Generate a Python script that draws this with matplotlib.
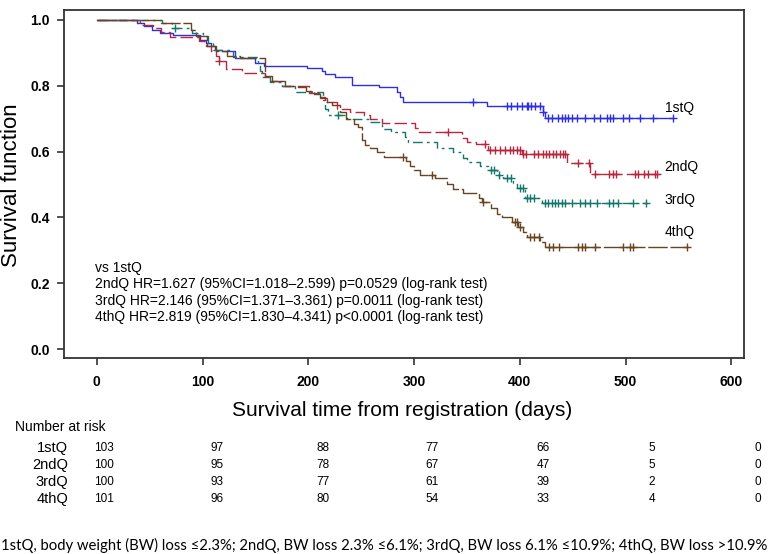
import numpy as np
import matplotlib
matplotlib.use("Agg")
import matplotlib.pyplot as plt

plt.rcParams['font.family'] = ['Liberation Sans', 'DejaVu Sans']

# Kaplan-Meier steps (days, survival)
q1_t = [0, 38, 45, 52, 60, 72, 98, 103, 108, 112, 118, 131, 150, 158, 199, 213, 216, 225, 241, 267, 284, 287, 290, 369, 422, 424]
q1_s = [1.0, 0.99, 0.98, 0.97, 0.96, 0.955, 0.94, 0.93, 0.92, 0.91, 0.905, 0.885, 0.87, 0.86, 0.855, 0.845, 0.835, 0.827, 0.802, 0.796, 0.78, 0.765, 0.751, 0.739, 0.72, 0.702]
q1_cens = [356, 388, 392, 397, 402, 407, 408, 411, 414, 419, 422, 427, 430, 436, 440, 443, 446, 449, 454,
           462, 470, 476, 482, 485, 488, 498, 503, 514, 526, 545]

q2_t = [0, 41, 53, 61, 69, 97, 103, 108, 113, 116, 122, 137, 159, 164, 175, 201, 211, 218, 227, 239, 253, 258,
        270, 301, 305, 345, 350, 359, 370, 402, 445, 466]
q2_s = [1.0, 0.985, 0.975, 0.962, 0.948, 0.935, 0.92, 0.905, 0.89, 0.875, 0.85, 0.84, 0.827, 0.815, 0.80, 0.778,
        0.763, 0.75, 0.73, 0.72, 0.71, 0.70, 0.687, 0.672, 0.66, 0.64, 0.63, 0.622, 0.606, 0.594, 0.565, 0.532]
q2_cens = [116, 332, 367, 372, 377, 381, 386, 391, 394, 397, 400, 403, 406, 413, 417, 422, 425, 428, 431, 434,
           438, 441, 443, 455, 465, 471, 484, 488, 491, 509, 512, 517, 521, 528, 530]

q3_t = [0, 62, 71, 90, 100, 105, 110, 129, 152, 154, 156, 164, 175, 187, 214, 216, 219, 237, 258, 270, 278, 291,
        294, 322, 337, 346, 350, 362, 370, 378, 384, 394, 397, 405, 421]
q3_s = [1.0, 0.99, 0.975, 0.96, 0.95, 0.93, 0.91, 0.888, 0.87, 0.845, 0.827, 0.81, 0.80, 0.78, 0.757, 0.73, 0.711,
        0.70, 0.69, 0.67, 0.66, 0.645, 0.63, 0.61, 0.60, 0.58, 0.568, 0.555, 0.544, 0.53, 0.52, 0.505, 0.49, 0.459, 0.444]
q3_cens = [74, 228, 373, 376, 380, 388, 392, 400, 403, 407, 410, 413, 424, 427, 430, 433, 436, 440, 443, 449,
           457, 462, 466, 473, 484, 488, 493, 507, 519]

q4_t = [0, 61, 89, 94, 104, 113, 123, 135, 159, 166, 178, 190, 198, 205, 211, 216, 222, 230, 236, 243, 247, 251,
        254, 258, 265, 272, 292, 296, 300, 306, 320, 331, 337, 346, 361, 364, 373, 378, 383, 393, 398, 403, 407, 419, 424]
q4_s = [1.0, 0.99, 0.97, 0.95, 0.92, 0.905, 0.89, 0.884, 0.83, 0.815, 0.80, 0.795, 0.785, 0.775, 0.765, 0.75, 0.74,
        0.72, 0.70, 0.685, 0.675, 0.635, 0.62, 0.61, 0.60, 0.584, 0.57, 0.555, 0.545, 0.53, 0.52, 0.50, 0.485, 0.474,
        0.46, 0.447, 0.43, 0.41, 0.40, 0.385, 0.37, 0.355, 0.34, 0.325, 0.31]
q4_cens = [290, 317, 365, 395, 397, 400, 410, 413, 418, 428, 431, 437, 455, 459, 462, 471, 498, 504, 507, 558]

groups = ['1stQ', '2ndQ', '3rdQ', '4thQ']
ends = [545, 530, 520, 558]

risk_times = [0, 100, 200, 300, 400, 500, 600]
risk_1 = [103, 97, 88, 77, 66, 5, 0]
risk_2 = [100, 95, 78, 67, 47, 5, 0]
risk_3 = [100, 93, 77, 61, 39, 2, 0]
risk_4 = [101, 96, 80, 54, 33, 4, 0]

stats_text = ("vs 1stQ\n"
              "2ndQ HR=1.627 (95%CI=1.018\u20132.599) p=0.0529 (log-rank test)\n"
              "3rdQ HR=2.146 (95%CI=1.371\u20133.361) p=0.0011 (log-rank test)\n"
              "4thQ HR=2.819 (95%CI=1.830\u20134.341) p<0.0001 (log-rank test)")
footer = ("1stQ, body weight (BW) loss \u22642.3%; 2ndQ, BW loss 2.3% \u22646.1%; "
          "3rdQ, BW loss 6.1% \u226410.9%; 4thQ, BW loss >10.9%")

colors = ['#2f2fdc', '#b5283f', '#14776a', '#6a4421']
styles = ['-', (0, (9, 3)), (0, (7, 3, 2, 3)), (0, (14, 2))]

W, H = 777, 554
fig = plt.figure(figsize=(W / 100, H / 100), dpi=100)
ax = fig.add_axes([64 / W, 1 - 358 / H, 680 / W, 348 / H])

all_t = [q1_t, q2_t, q3_t, q4_t]
all_s = [q1_s, q2_s, q3_s, q4_s]
all_c = [q1_cens, q2_cens, q3_cens, q4_cens]
for t, s, c, end, col, ls in zip(all_t, all_s, all_c, ends, colors, styles):
    tt = np.append(t, end)
    ss = np.append(s, s[-1])
    ax.step(tt, ss, where='post', color=col, lw=1.0, linestyle=ls)
    c = np.array(c)
    idx = np.searchsorted(t, c, side='right') - 1
    ax.plot(c, np.array(s)[idx], linestyle='none', marker='+', ms=6, mew=1.0, color=col)

ax.set_xlim(-31, 612)
ax.set_ylim(-0.027, 1.030)
ax.set_xticks([0, 100, 200, 300, 400, 500, 600])
ax.set_yticks([0.0, 0.2, 0.4, 0.6, 0.8, 1.0])
ax.set_yticklabels(['0.0', '0.2', '0.4', '0.6', '0.8', '1.0'])
ax.tick_params(direction='out', length=5, width=1.2, color='#333333', labelsize=10)
ax.tick_params(axis='x', pad=7)
ax.tick_params(axis='y', pad=5)
for lab in ax.get_xticklabels() + ax.get_yticklabels():
    lab.set_fontweight('bold')
for sp in ax.spines.values():
    sp.set_linewidth(1.3)
    sp.set_color('#333333')

# curve labels
label_y = [0.733, 0.553, 0.453, 0.356]
for g, y in zip(groups, label_y):
    ax.text(537, y, g, fontsize=10, va='center', ha='left')

ax.text(-2, 0.172, stats_text, fontsize=10, va='center', ha='left', linespacing=1.2)

fig.text(402 / W, 1 - 410 / H, 'Survival time from registration (days)', fontsize=15, ha='center', va='center')
fig.text(12 / W, 1 - 185 / H, 'Survival function', fontsize=16, ha='center', va='center', rotation=90)

# number at risk table
fig.text(15 / W, 1 - 427 / H, 'Number at risk', fontsize=10, ha='left', va='center')
col_x = [104, 217, 323, 432, 543, 652, 758]
row_y = [448, 465, 482, 499]
for g, row, y in zip(groups, [risk_1, risk_2, risk_3, risk_4], row_y):
    fig.text(68 / W, 1 - y / H, g, fontsize=10.5, ha='right', va='center')
    for x, v in zip(col_x, row):
        fig.text(x / W, 1 - y / H, str(v), fontsize=8.5, ha='center', va='center',
                 family=['Liberation Sans Narrow', 'Liberation Sans'])

fig.text(1 / W, 1 - 545 / H, footer, fontsize=10.7, ha='left', va='center', family=['Lato', 'DejaVu Sans'])

fig.savefig('out.png', dpi=100)
